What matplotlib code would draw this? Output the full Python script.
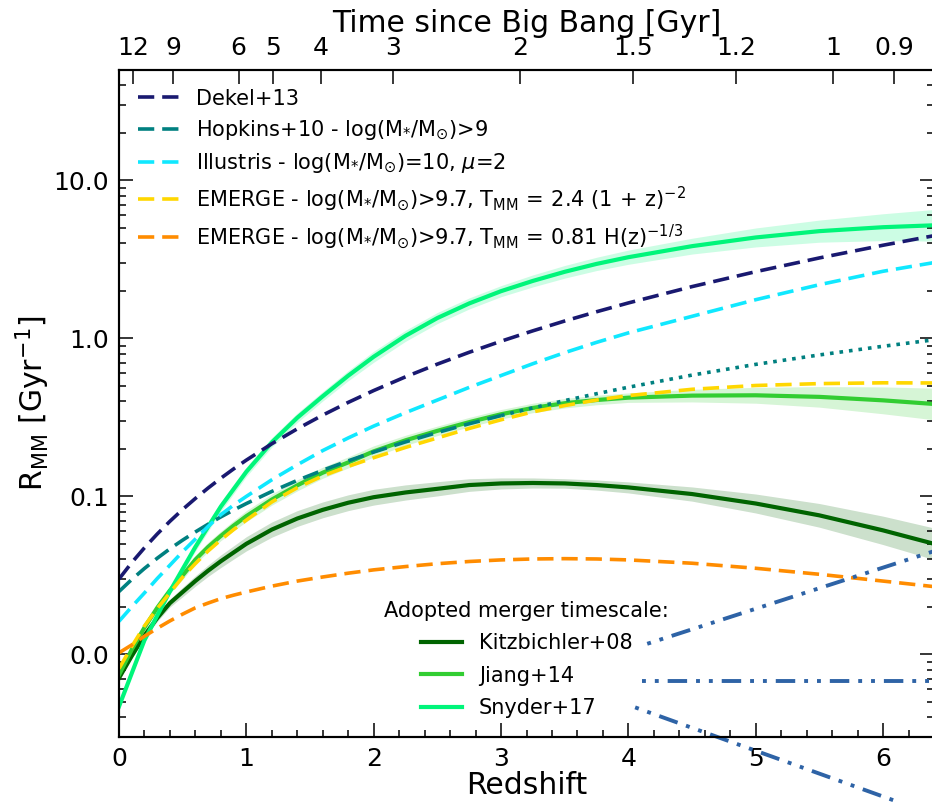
import numpy as np
import matplotlib
matplotlib.use('Agg')
import matplotlib.pyplot as plt
from matplotlib.ticker import (MultipleLocator, LogLocator, FormatStrFormatter,
                               NullFormatter, NullLocator)

# ---------------- data ----------------
z = [0, 0.1, 0.2, 0.3, 0.4, 0.5, 0.6, 0.7, 0.8, 0.9, 1.0, 1.2, 1.4, 1.6, 1.8, 2.0,
     2.25, 2.5, 2.75, 3.0, 3.25, 3.5, 3.75, 4.0, 4.5, 5.0, 5.5, 6.0, 6.4]
dekel = [0.0300, 0.0381, 0.0473, 0.0578, 0.0696, 0.0827, 0.0971, 0.1130, 0.1304, 0.1493,
         0.1697, 0.2154, 0.2677, 0.3270, 0.3936, 0.4677, 0.5713, 0.6875, 0.8170, 0.960,
         1.117, 1.289, 1.475, 1.677, 2.128, 2.645, 3.232, 3.889, 4.469]
hopkins = [0.0250, 0.0298, 0.0350, 0.0406, 0.0466, 0.0529, 0.0596, 0.0667, 0.0742, 0.0820,
           0.0901, 0.1075, 0.1263, 0.1464, 0.1679, 0.1908, 0.2213, 0.2538, 0.2883, 0.3248,
           0.3635, 0.404, 0.4465, 0.491, 0.586, 0.685, 0.786, 0.892, 0.980]
illustris = [0.0162, 0.0200, 0.0245, 0.0302, 0.0367, 0.0447, 0.0537, 0.0646, 0.0767, 0.0881,
             0.100, 0.1274, 0.1585, 0.195, 0.2344, 0.2786, 0.3388, 0.4074, 0.4898, 0.5821,
             0.6918, 0.8128, 0.9441, 1.084, 1.380, 1.758, 2.188, 2.661, 3.020]
emerge_a = [0.00813, 0.01122, 0.01514, 0.01950, 0.02455, 0.03090, 0.03758, 0.04519, 0.05309,
            0.06166, 0.07079, 0.09226, 0.1135, 0.1349, 0.1549, 0.1758, 0.2042, 0.2344, 0.2692,
            0.3055, 0.3428, 0.3758, 0.4074, 0.4345, 0.4764, 0.5035, 0.5176, 0.5236, 0.5224]
emerge_b = [0.01023, 0.01148, 0.01303, 0.01462, 0.01629, 0.01799, 0.01972, 0.02113, 0.02254,
            0.02371, 0.02483, 0.02704, 0.02911, 0.03090, 0.03266, 0.03428, 0.03597, 0.03750,
            0.03873, 0.03963, 0.04018, 0.04036, 0.04018, 0.03963, 0.03776, 0.03508, 0.03214,
            0.02911, 0.02685]
kitz = [0.00708, 0.00977, 0.01318, 0.01698, 0.02113, 0.02483, 0.02917, 0.03388, 0.03890,
        0.04416, 0.05012, 0.06166, 0.07244, 0.08222, 0.09120, 0.09886, 0.1059, 0.1117, 0.1180,
        0.1208, 0.1216, 0.1208, 0.1180, 0.1140, 0.1035, 0.09016, 0.07586, 0.06095, 0.05012]
jiang = [0.00741, 0.01072, 0.01479, 0.01972, 0.02541, 0.03162, 0.03981, 0.04786, 0.05623,
         0.06531, 0.07499, 0.09550, 0.1175, 0.1413, 0.1641, 0.1928, 0.2265, 0.2600, 0.2951,
         0.3311, 0.3631, 0.3890, 0.4074, 0.4217, 0.4345, 0.4365, 0.4266, 0.4055, 0.3846]
snyder = [0.00468, 0.00759, 0.0123, 0.01758, 0.0251, 0.0347, 0.0479, 0.0643, 0.0863, 0.1112,
          0.1432, 0.2198, 0.3148, 0.4305, 0.5808, 0.7656, 1.039, 1.346, 1.665, 1.991, 2.312,
          2.640, 2.962, 3.266, 3.837, 4.355, 4.775, 5.058, 5.200]
# half width of the shaded uncertainty bands (dex)
kitz_err = [0.01, 0.015, 0.02, 0.022, 0.025, 0.03, 0.033, 0.036, 0.04, 0.042, 0.045, 0.048,
            0.05, 0.05, 0.05, 0.05, 0.048, 0.045, 0.04, 0.035, 0.032, 0.03, 0.032, 0.035, 0.045,
            0.06, 0.075, 0.09, 0.10]
jiang_err = [0.01, 0.012, 0.015, 0.018, 0.02, 0.025, 0.027, 0.03, 0.03, 0.032, 0.035, 0.035,
             0.035, 0.035, 0.035, 0.035, 0.032, 0.03, 0.03, 0.03, 0.03, 0.03, 0.03, 0.03, 0.04,
             0.05, 0.065, 0.085, 0.10]
snyder_err = [0.01, 0.012, 0.015, 0.018, 0.02, 0.025, 0.027, 0.03, 0.03, 0.03, 0.03, 0.03,
              0.03, 0.03, 0.032, 0.035, 0.035, 0.035, 0.035, 0.035, 0.038, 0.04, 0.042, 0.045,
              0.05, 0.06, 0.07, 0.085, 0.10]
hopkins_split_z = 3.0

# extra blue dash-dot-dot lines (endpoints)
blue1_z = [4.148, 6.45]
blue1_r = [0.01167, 0.0464]
blue2_z = [4.108, 6.45]
blue2_r = [0.00674, 0.00674]
blue3_z = [4.053, 6.45]
blue3_r = [0.00462, 0.000933]

# top axis: time since Big Bang [Gyr]
top_times = [12, 9, 6, 5, 4, 3, 2, 1.5, 1.2, 1, 0.9]
top_labels = ['12', '9', '6', '5', '4', '3', '2', '1.5', '1.2', '1', '0.9']

labels = ['Dekel+13',
          r'Hopkins+10 - log(M$_{*}$/M$_{\odot}$)>9',
          r'Illustris - log(M$_{*}$/M$_{\odot}$)=10, $\mu$=2',
          r'EMERGE - log(M$_{*}$/M$_{\odot}$)>9.7, T$_{\rm MM}$$\,=\,$2.4 (1$\,+\,$z)$^{-2}$',
          r'EMERGE - log(M$_{*}$/M$_{\odot}$)>9.7, T$_{\rm MM}$$\,=\,$0.81 H(z)$^{-1/3}$']
solid_labels = ['Kitzbichler+08', 'Jiang+14', 'Snyder+17']

# ---------------- figure ----------------
fig = plt.figure(figsize=(9.32, 8.02), dpi=100)
ax = fig.add_axes([119 / 932, 65 / 802, (934 - 119) / 932, (737 - 70) / 802])
ax.set_yscale('log')

zz = np.array(z)
c_kitz, c_jiang, c_snyder = '#006400', '#32CD32', '#00F57A'
for vals, err, col in [(kitz, kitz_err, c_kitz), (jiang, jiang_err, c_jiang),
                       (snyder, snyder_err, c_snyder)]:
    v = np.array(vals)
    e = np.array(err)
    ax.fill_between(zz, v * 10 ** (-e), v * 10 ** e, color=col, alpha=0.2, lw=0, zorder=1)

lw_s = 3.0
lk, = ax.plot(z, kitz, color=c_kitz, lw=lw_s, zorder=3)
lj, = ax.plot(z, jiang, color=c_jiang, lw=lw_s, zorder=3)
ls_, = ax.plot(z, snyder, color=c_snyder, lw=lw_s, zorder=3)

lw_d = 2.6
dash = (4.5, 2.2)
h1, = ax.plot(z, dekel, color='#191970', lw=lw_d, dashes=dash, zorder=4)
m = zz <= hopkins_split_z
h2, = ax.plot(zz[m], np.array(hopkins)[m], color='#008080', lw=lw_d, dashes=dash, zorder=4)
m2 = zz >= hopkins_split_z
ax.plot(zz[m2], np.array(hopkins)[m2], color='#008080', lw=lw_d, ls=':', zorder=4)
h3, = ax.plot(z, illustris, color='#10E8FF', lw=lw_d, dashes=dash, zorder=4)
h4, = ax.plot(z, emerge_a, color='#FFD700', lw=lw_d, dashes=dash, zorder=4)
h5, = ax.plot(z, emerge_b, color='#FF8C00', lw=lw_d, dashes=dash, zorder=4)

blue_ls = (0, (1, 2.3, 1, 2.3, 5, 2.3))
for bz, br in [(blue1_z, blue1_r), (blue2_z, blue2_r), (blue3_z, blue3_r)]:
    ax.plot(bz, br, color='#2E63A6', lw=2.8, ls=blue_ls, clip_on=False, zorder=5)

ax.set_xlim(0, 6.4)
ax.set_ylim(0.003, 50)

ax.xaxis.set_major_locator(MultipleLocator(1))
ax.xaxis.set_minor_locator(MultipleLocator(0.2))
ax.yaxis.set_major_locator(LogLocator(base=10, numticks=20))
ax.yaxis.set_minor_locator(LogLocator(base=10, subs=np.arange(2, 10), numticks=20))
ax.yaxis.set_major_formatter(FormatStrFormatter('%.1f'))
ax.yaxis.set_minor_formatter(NullFormatter())
ax.tick_params(which='both', direction='in', right=True, top=False, width=1.1,
               labelsize=18, pad=7)
ax.tick_params(which='major', length=10)
ax.tick_params(which='minor', length=5)
for s in ax.spines.values():
    s.set_linewidth(1.5)

ax.set_xlabel('Redshift', fontsize=21.5, labelpad=0.5)
ax.set_ylabel(r'R$_{\rm MM}$ [Gyr$^{-1}$]', fontsize=21.5, labelpad=1)

# top axis
H0 = 70.0 / 977.8
Om, OL = 0.3, 0.7
tt = np.array(top_times, dtype=float)
a_t = (np.sinh(1.5 * H0 * np.sqrt(OL) * tt) / np.sqrt(OL / Om)) ** (2.0 / 3.0)
z_top = 1.0 / a_t - 1.0
ax2 = ax.twiny()
ax2.set_xlim(ax.get_xlim())
ax2.set_xticks(z_top)
ax2.set_xticklabels(top_labels)
ax2.xaxis.set_minor_locator(NullLocator())
ax2.tick_params(direction='in', length=10, width=1.1, labelsize=18, pad=7)
ax2.set_xlabel('Time since Big Bang [Gyr]', fontsize=21.5, labelpad=3)
for s in ax2.spines.values():
    s.set_linewidth(1.5)

leg1 = ax.legend(handles=[h1, h2, h3, h4, h5], labels=labels, loc='upper left',
                 frameon=False, fontsize=15, labelspacing=0.45)
ax.add_artist(leg1)
leg2 = ax.legend(handles=[lk, lj, ls_], labels=solid_labels, loc='lower center',
                 frameon=False, fontsize=15, labelspacing=0.6,
                 title='Adopted merger timescale:', title_fontsize=15)

fig.savefig('out.png', dpi=100)
